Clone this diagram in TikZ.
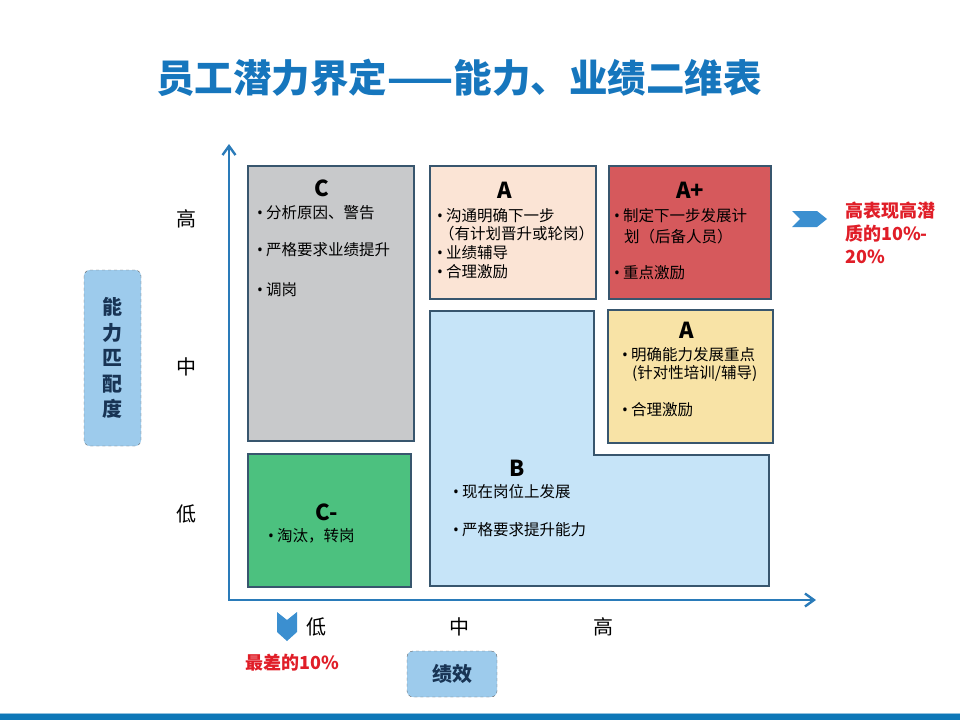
\documentclass[tikz,border=0pt]{standalone}
\usepackage{fontspec}
\setmainfont{Noto Sans CJK SC}
\newfontfamily\latinfont{Noto Sans}
\newcommand{\bul}{{\latinfont•}\hspace{3pt}}
\usetikzlibrary{arrows.meta,positioning,calc}
\definecolor{titleblue}{RGB}{22,118,189}
\definecolor{axisblue}{RGB}{42,123,185}
\definecolor{cellline}{RGB}{56,86,110}
\definecolor{graycell}{RGB}{200,201,203}
\definecolor{peachcell}{RGB}{251,228,213}
\definecolor{redcell}{RGB}{214,89,92}
\definecolor{yellowcell}{RGB}{248,227,166}
\definecolor{bluecell}{RGB}{198,228,248}
\definecolor{greencell}{RGB}{76,193,127}
\definecolor{tagblue}{RGB}{157,203,236}
\definecolor{navytext}{RGB}{24,52,84}
\definecolor{notered}{RGB}{224,30,40}
\definecolor{chevblue}{RGB}{59,143,208}
\definecolor{bandblue}{RGB}{14,120,184}
\tikzset{
 cell/.style={draw=cellline,line width=1.4pt,inner sep=0pt,outer sep=0pt,anchor=north west},
 grade/.style={inner sep=0pt,font=\fontsize{22}{24}\selectfont\bfseries},
 item/.style={anchor=west,inner sep=0pt,font=\fontsize{15.5}{18}\selectfont},
 lvl/.style={inner sep=0pt,font=\fontsize{20}{22}\selectfont},
 axis/.style={draw=axisblue,line width=2.4pt,line join=miter,
              {Straight Barb[length=9pt,width=13pt]}-{Straight Barb[length=9pt,width=13pt]}},
 tag/.style={draw=black!60,dashed,rounded corners=6pt,fill=tagblue,text=navytext,
             align=center,inner sep=0pt,font=\fontsize{20}{25.5}\selectfont\bfseries},
 note/.style={text=notered,inner sep=0pt,align=left,font=\fontsize{18}{23}\selectfont\bfseries},
 chevron/.style={fill=chevblue,draw=none}
}

\begin{document}
\begin{tikzpicture}[x=1pt,y=-1pt]
\useasboundingbox (0,0) rectangle (960,720);
% title
\node[inner sep=0pt,text=titleblue,font=\fontsize{38.5}{40}\selectfont\bfseries] (title) at (459,78) {员工潜力界定——能力、业绩二维表};

% axes
\coordinate (origin) at (229,600);
\coordinate (ytip) at (229,144);
\coordinate (xtip) at (816,600);
\draw[axis] (ytip) -- (origin) -- (xtip);

% cells
\node[cell,fill=graycell,minimum width=166,minimum height=275] (cbox) at (248,166) {};
\node[cell,fill=peachcell,minimum width=166,minimum height=133] (atop) at (430,166) {};
\node[cell,fill=redcell,minimum width=162,minimum height=133] (aplus) at (609,166) {};
\node[cell,fill=yellowcell,minimum width=165,minimum height=133] (aright) at (608,310) {};
\node[cell,fill=greencell,minimum width=163,minimum height=133] (cminus) at (248,454) {};
\draw[draw=cellline,line width=1.4pt,fill=bluecell]
  (430,311) coordinate (bnw) -- (594,311) -- (594,455) -- (769,455) -- (769,586) -- (430,586) -- cycle;

% C
\node[grade] (cgrade) at (322,188) {C};
\node[item] (c1) at (257,213) {\bul 分析原因、警告};
\node[item] (c2) at (257,250) {\bul 严格要求业绩提升};
\node[item] (c3) at (257,290) {\bul 调岗};
% A (top)
\node[grade] (agrade) at (505,190) {A};
\node[item] (a1) at (437,216) {\bul 沟通明确下一步};
\node[item] (a2) at (439,234) {（有计划晋升或轮岗）};
\node[item] (a3) at (437,253) {\bul 业绩辅导};
\node[item] (a4) at (437,272) {\bul 合理激励};
% A+
\node[grade] (apgrade) at (690,190) {A+};
\node[item] (ap1) at (614,216) {\bul 制定下一步发展计};
\node[item] (ap2) at (624,237) {划（后备人员）};
\node[item] (ap3) at (614,273) {\bul 重点激励};
% A (right)
\node[grade] (argrade) at (687,330) {A};
\node[item] (ar1) at (622,355) {\bul 明确能力发展重点};
\node[item] (ar2) at (632,373) {(针对性培训/辅导)};
\node[item] (ar3) at (622,410) {\bul 合理激励};
% B
\node[grade] (bgrade) at (517,468) {B};
\node[item] (b1) at (453,492) {\bul 现在岗位上发展};
\node[item] (b2) at (453,530) {\bul 严格要求提升能力};
% C-
\node[grade] (cmgrade) at (327,512) {C-};
\node[item] (cm1) at (268,536) {\bul 淘汰，转岗};

% levels
\node[lvl] (yhigh) at (186,219) {高};
\node[lvl] (ymid) at (186,367) {中};
\node[lvl] (ylow) at (186,514) {低};
\node[lvl] (xlow) at (316,627) {低};
\node[lvl] (xmid) at (459,627) {中};
\node[lvl] (xhigh) at (603,627) {高};

% axis tags
\node[tag,minimum width=57,minimum height=176] (abilitytag) at (112.5,358) {能\\力\\匹\\配\\度};
\node[tag,minimum width=90,minimum height=46] (perftag) at (452,674) {绩效};

% markers and notes
\fill[chevron] (277,612) -- (287,620) -- (297,612) -- (297,632) -- (287,641) -- (277,632) -- cycle;
\node[note] (worst) at (292,663) {最差的10\%};
\fill[chevron] (792,211) -- (817,211) -- (827,219) -- (817,227) -- (792,227) -- (800,219) -- cycle;
\node[note,anchor=north west] (best) at (845,202) {高表现高潜\\质的10\%-\\20\%};

% bottom band
\fill[bandblue] (0,714) rectangle (960,720);
\draw[bandblue!45,line width=1pt] (0,713) -- (960,713);
\end{tikzpicture}
\end{document}
